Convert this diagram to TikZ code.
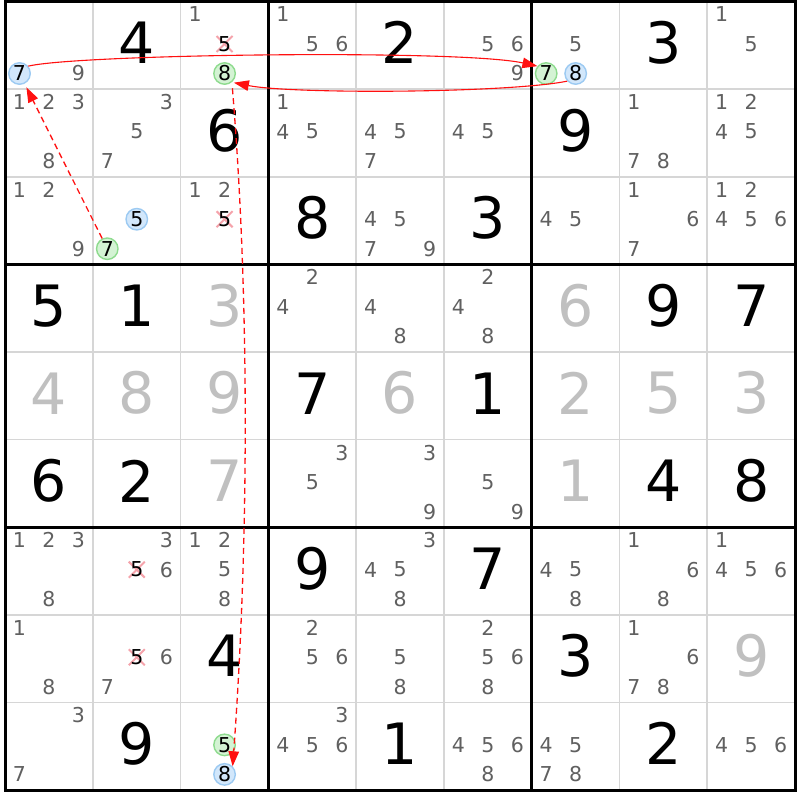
\documentclass[tikz,border=0pt]{standalone}
\usepackage{fontspec}
\setmainfont{DejaVu Sans}
\usetikzlibrary{arrows.meta}
\definecolor{candgray}{HTML}{606060}
\definecolor{solvedgray}{HTML}{C0C0C0}
\definecolor{gridgray}{HTML}{D6D6D6}
\definecolor{blueF}{HTML}{D2E7FB}
\definecolor{blueB}{HTML}{9CCAF2}
\definecolor{greenF}{HTML}{D4F3D4}
\definecolor{greenB}{HTML}{8EDB8E}
\definecolor{xpink}{HTML}{F5A3AB}
\definecolor{linkred}{HTML}{FF1010}
\newcommand\CX[1]{(5+(#1-1)*87.78)}
\newcommand\CY[1]{(1.5+(#1-1)*87.61)}
\newcommand\PX[2]{\CX{#1}+14.5+mod(#2-1,3)*29.5}
\newcommand\PY[2]{-(\CY{#1}+13+floor((#2-1)/3)*29.5)}
\newcommand\cands[3]{\foreach \dg in {#3}{\node[cand] (k#1#2\dg) at ({\PX{#2}{\dg}},{\PY{#1}{\dg}}) {\dg};}}
\newcommand\bcand[3]{\node[bluec] (b#1#2#3) at ({\PX{#2}{#3}},{\PY{#1}{#3}}) {#3};}
\newcommand\gcand[3]{\node[greenc] (g#1#2#3) at ({\PX{#2}{#3}},{\PY{#1}{#3}}) {#3};}
\newcommand\xcand[3]{\coordinate (x#1#2#3) at ({\PX{#2}{#3}},{\PY{#1}{#3}});
  \draw[xmark] ([shift={(-8,-8)}]x#1#2#3) -- ([shift={(8,8)}]x#1#2#3);
  \draw[xmark] ([shift={(-8,8)}]x#1#2#3) -- ([shift={(8,-8)}]x#1#2#3);
  \node[cand,text=black] (k#1#2#3) at (x#1#2#3) {#3};}
\newcommand\gv[3]{\node[given] (v#1#2) at ({\CX{#2}+43.9},{-(\CY{#1}+41.3)}) {#3};}
\newcommand\sv[3]{\node[solved] (v#1#2) at ({\CX{#2}+43.9},{-(\CY{#1}+41.3)}) {#3};}
\tikzset{
  cand/.style={font=\fontsize{20.5}{20.5}\selectfont, text=candgray, inner sep=0pt},
  given/.style={font=\fontsize{57}{57}\selectfont, text=black, inner sep=0pt},
  solved/.style={given, text=solvedgray},
  bluec/.style={circle, draw=blueB, fill=blueF, line width=1.4pt, minimum size=21.5pt, inner sep=0pt, font=\fontsize{20.5}{20.5}\selectfont, text=black},
  greenc/.style={bluec, draw=greenB, fill=greenF},
  xmark/.style={draw=xpink, line width=2pt},
  thingrid/.style={draw=gridgray, line width=1.6pt},
  thickgrid/.style={draw=black, line width=3pt},
  strong/.style={draw=linkred, line width=1.1pt, -{Triangle[length=15pt,width=10.5pt]}},
  weak/.style={strong, line width=1.3pt, dash pattern=on 6pt off 4pt},
}
\begin{document}
\begin{tikzpicture}[x=1pt,y=1pt]
\useasboundingbox (0,0) rectangle (800,-800);
\fill[white] (0,0) rectangle (800,-800);
% grid
\foreach \i in {1,2,4,5,7,8}{
  \draw[thingrid] ({5+\i*87.78},-1.5) -- ({5+\i*87.78},-790);
  \draw[thingrid] (5,{-(1.5+\i*87.61)}) -- (795,{-(1.5+\i*87.61)});
}
\foreach \i in {3,6}{
  \draw[thickgrid] ({5+\i*87.78},-1.5) -- ({5+\i*87.78},-790);
  \draw[thickgrid] (5,{-(1.5+\i*87.61)}) -- (795,{-(1.5+\i*87.61)});
}
\draw[thickgrid] (5,-1.5) rectangle (795,-790);
% row 1
\cands{1}{1}{9} \bcand{1}{1}{7}
\gv{1}{2}{4}
\cands{1}{3}{1} \xcand{1}{3}{5} \gcand{1}{3}{8}
\cands{1}{4}{1,5,6}
\gv{1}{5}{2}
\cands{1}{6}{5,6,9}
\cands{1}{7}{5} \gcand{1}{7}{7} \bcand{1}{7}{8}
\gv{1}{8}{3}
\cands{1}{9}{1,5}
% row 2
\cands{2}{1}{1,2,3,8}
\cands{2}{2}{3,5,7}
\gv{2}{3}{6}
\cands{2}{4}{1,4,5}
\cands{2}{5}{4,5,7}
\cands{2}{6}{4,5}
\gv{2}{7}{9}
\cands{2}{8}{1,7,8}
\cands{2}{9}{1,2,4,5}
% row 3
\cands{3}{1}{1,2,9}
\bcand{3}{2}{5} \gcand{3}{2}{7}
\cands{3}{3}{1,2} \xcand{3}{3}{5}
\gv{3}{4}{8}
\cands{3}{5}{4,5,7,9}
\gv{3}{6}{3}
\cands{3}{7}{4,5}
\cands{3}{8}{1,6,7}
\cands{3}{9}{1,2,4,5,6}
% row 4
\gv{4}{1}{5} \gv{4}{2}{1} \sv{4}{3}{3}
\cands{4}{4}{2,4} \cands{4}{5}{4,8} \cands{4}{6}{2,4,8}
\sv{4}{7}{6} \gv{4}{8}{9} \gv{4}{9}{7}
% row 5
\sv{5}{1}{4} \sv{5}{2}{8} \sv{5}{3}{9} \gv{5}{4}{7} \sv{5}{5}{6}
\gv{5}{6}{1} \sv{5}{7}{2} \sv{5}{8}{5} \sv{5}{9}{3}
% row 6
\gv{6}{1}{6} \gv{6}{2}{2} \sv{6}{3}{7}
\cands{6}{4}{3,5} \cands{6}{5}{3,9} \cands{6}{6}{5,9}
\sv{6}{7}{1} \gv{6}{8}{4} \gv{6}{9}{8}
% row 7
\cands{7}{1}{1,2,3,8}
\cands{7}{2}{3,6} \xcand{7}{2}{5}
\cands{7}{3}{1,2,5,8}
\gv{7}{4}{9}
\cands{7}{5}{3,4,5,8}
\gv{7}{6}{7}
\cands{7}{7}{4,5,8}
\cands{7}{8}{1,6,8}
\cands{7}{9}{1,4,5,6}
% row 8
\cands{8}{1}{1,8}
\cands{8}{2}{6,7} \xcand{8}{2}{5}
\gv{8}{3}{4}
\cands{8}{4}{2,5,6}
\cands{8}{5}{5,8}
\cands{8}{6}{2,5,6,8}
\gv{8}{7}{3}
\cands{8}{8}{1,6,7,8}
\sv{8}{9}{9}
% row 9
\cands{9}{1}{3,7}
\gv{9}{2}{9}
\gcand{9}{3}{5} \bcand{9}{3}{8}
\cands{9}{4}{3,4,5,6}
\gv{9}{5}{1}
\cands{9}{6}{4,5,6,8}
\cands{9}{7}{4,5,7,8}
\gv{9}{8}{2}
\cands{9}{9}{4,5,6}
% links
\draw[strong] (b117.40) .. controls +(50,12) and +(-77,17) .. (g177.140);
\draw[strong, shorten >=2pt] (b178.222) .. controls +(-60,-12) and +(60,-12) .. (g138.-50);
\draw[weak, shorten >=4pt] (g327) -- (b117);
\draw[weak, shorten <=6pt] (g138.-50) .. controls +(18,-220) and +(16,220) .. (b938.45);
\end{tikzpicture}
\end{document}
